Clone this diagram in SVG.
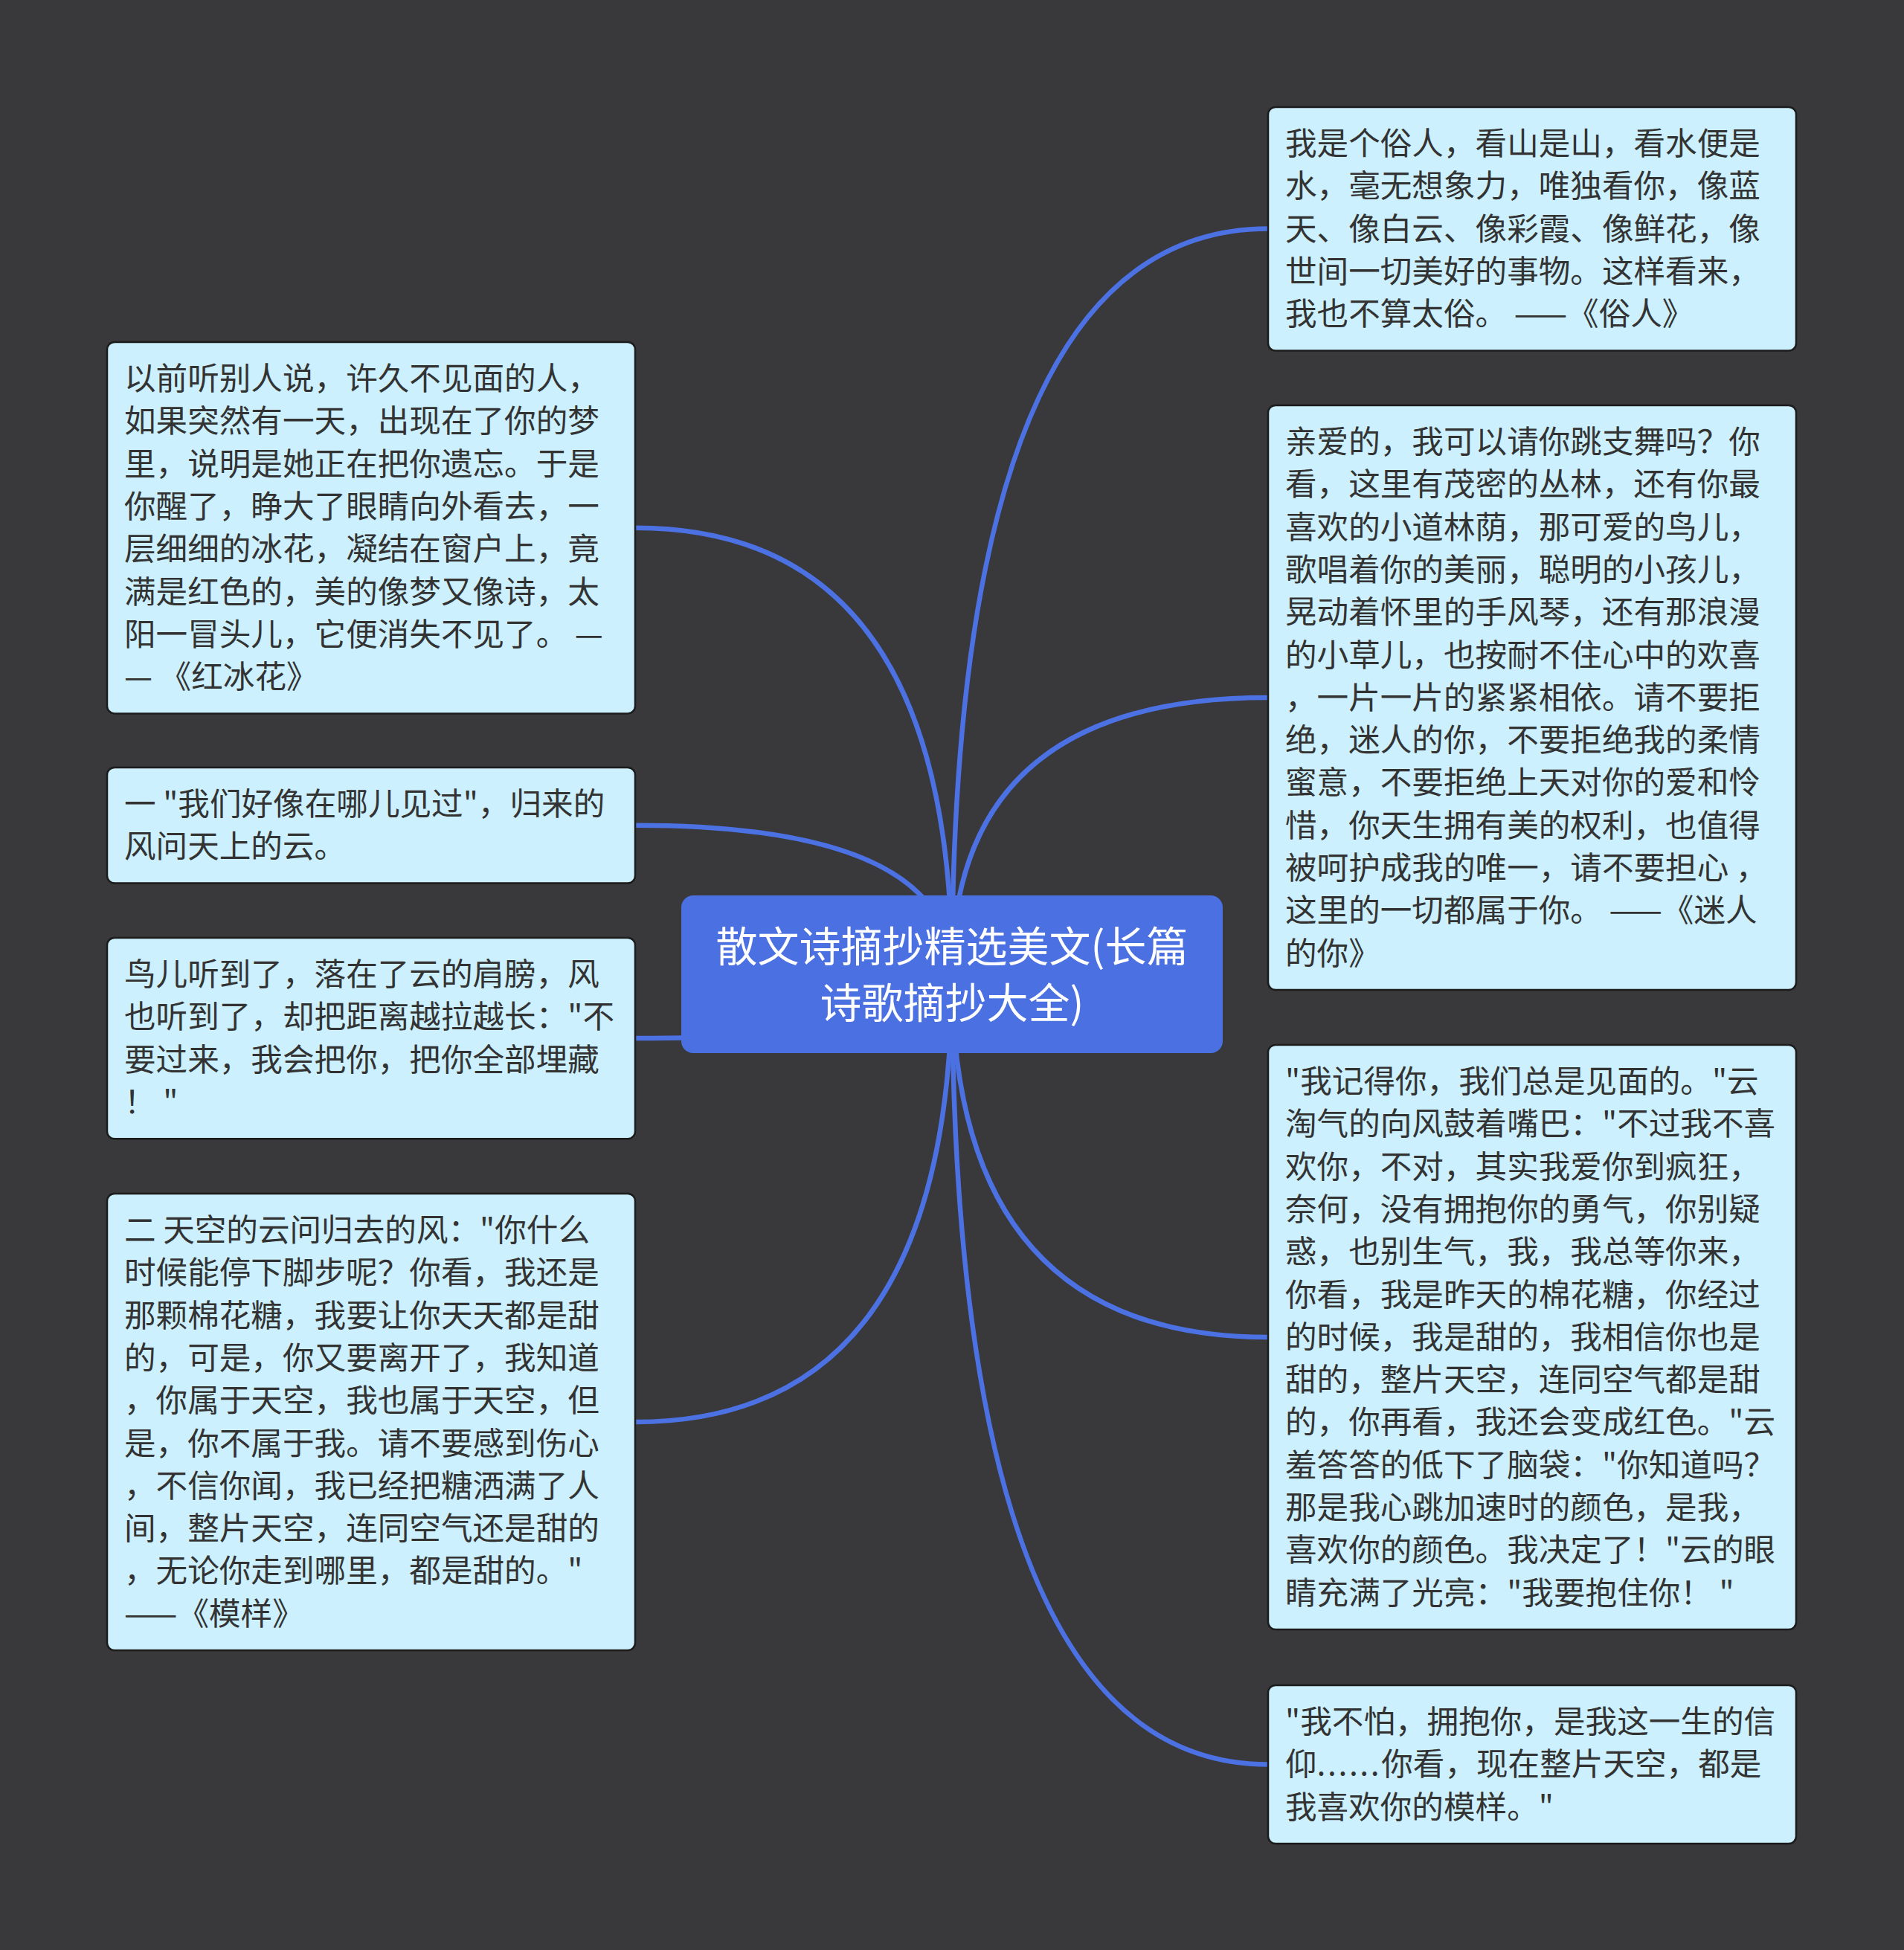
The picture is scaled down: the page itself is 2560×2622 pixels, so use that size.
<svg xmlns="http://www.w3.org/2000/svg" width="2560" height="2622" viewBox="0 0 2560 2622">
<style>
.bg{fill:#39383a}
.edge{fill:none;stroke:#4b71e3;stroke-width:6.5;stroke-linecap:round}
.box{fill:#ccf0fd;stroke:#1c1c1c;stroke-width:2.5}
.root{fill:#4b70e2}
.t{font-family:"Noto Sans CJK SC","Noto Sans",sans-serif;font-size:42.6px;fill:#333333}
.rt{font-family:"Noto Sans CJK SC","Noto Sans",sans-serif;font-size:56px;fill:#ffffff;text-anchor:middle}
.dots{letter-spacing:2.6px}
</style>
<rect class="bg" x="0" y="0" width="2560" height="2622"/>
<g id="connectors">
<path class="edge" d="M1280 1310 Q1280 307.5 1705 307.5"/>
<path class="edge" d="M1280 1310 Q1280 938 1705 938"/>
<path class="edge" d="M1280 1310 Q1280 1798 1705 1798"/>
<path class="edge" d="M1280 1310 Q1280 2372.5 1705 2372.5"/>
<path class="edge" d="M1280 1310 Q1280 709.7 854 709.7"/>
<path class="edge" d="M1280 1310 Q1280 1109.8 854 1109.8"/>
<path class="edge" d="M1280 1310 Q1280 1396 854 1396"/>
<path class="edge" d="M1280 1310 Q1280 1912 854 1912"/>
</g>
<g id="root">
<rect class="root" x="916" y="1204" width="728" height="212" rx="16"/>
<text class="rt"><tspan x="1280" y="1293">散文诗摘抄精选美文(长篇</tspan><tspan x="1280" y="1369">诗歌摘抄大全)</tspan></text>
</g>
<g id="r1">
<rect class="box" x="1705" y="144" width="710" height="327.5" rx="10"/>
<text class="t"><tspan x="1728" y="208">我是个俗人，看山是山，看水便是</tspan><tspan x="1728" dy="57.3">水，毫无想象力，唯独看你，像蓝</tspan><tspan x="1728" dy="57.3">天、像白云、像彩霞、像鲜花，像</tspan><tspan x="1728" dy="57.3">世间一切美好的事物。这样看来，</tspan><tspan x="1728" dy="57.3">我也不算太俗。 ——《俗人》</tspan></text>
</g>
<g id="r2">
<rect class="box" x="1705" y="545" width="710" height="786" rx="10"/>
<text class="t"><tspan x="1728" y="609">亲爱的，我可以请你跳支舞吗？你</tspan><tspan x="1728" dy="57.3">看，这里有茂密的丛林，还有你最</tspan><tspan x="1728" dy="57.3">喜欢的小道林荫，那可爱的鸟儿，</tspan><tspan x="1728" dy="57.3">歌唱着你的美丽，聪明的小孩儿，</tspan><tspan x="1728" dy="57.3">晃动着怀里的手风琴，还有那浪漫</tspan><tspan x="1728" dy="57.3">的小草儿，也按耐不住心中的欢喜</tspan><tspan x="1728" dy="57.3">，一片一片的紧紧相依。请不要拒</tspan><tspan x="1728" dy="57.3">绝，迷人的你，不要拒绝我的柔情</tspan><tspan x="1728" dy="57.3">蜜意，不要拒绝上天对你的爱和怜</tspan><tspan x="1728" dy="57.3">惜，你天生拥有美的权利，也值得</tspan><tspan x="1728" dy="57.3">被呵护成我的唯一，请不要担心 ，</tspan><tspan x="1728" dy="57.3">这里的一切都属于你。 ——《迷人</tspan><tspan x="1728" dy="57.3">的你》</tspan></text>
</g>
<g id="r3">
<rect class="box" x="1705" y="1405" width="710" height="786" rx="10"/>
<text class="t"><tspan x="1728" y="1469">"我记得你，我们总是见面的。"云</tspan><tspan x="1728" dy="57.3">淘气的向风鼓着嘴巴："不过我不喜</tspan><tspan x="1728" dy="57.3">欢你，不对，其实我爱你到疯狂，</tspan><tspan x="1728" dy="57.3">奈何，没有拥抱你的勇气，你别疑</tspan><tspan x="1728" dy="57.3">惑，也别生气，我，我总等你来，</tspan><tspan x="1728" dy="57.3">你看，我是昨天的棉花糖，你经过</tspan><tspan x="1728" dy="57.3">的时候，我是甜的，我相信你也是</tspan><tspan x="1728" dy="57.3">甜的，整片天空，连同空气都是甜</tspan><tspan x="1728" dy="57.3">的，你再看，我还会变成红色。"云</tspan><tspan x="1728" dy="57.3">羞答答的低下了脑袋："你知道吗？</tspan><tspan x="1728" dy="57.3">那是我心跳加速时的颜色，是我，</tspan><tspan x="1728" dy="57.3">喜欢你的颜色。我决定了！"云的眼</tspan><tspan x="1728" dy="57.3">睛充满了光亮："我要抱住你！ "</tspan></text>
</g>
<g id="r4">
<rect class="box" x="1705" y="2266" width="710" height="213" rx="10"/>
<text class="t"><tspan x="1728" y="2330">"我不怕，拥抱你，是我这一生的信</tspan><tspan x="1728" dy="57.3">仰<tspan class="dots">......</tspan>你看，现在整片天空，都是</tspan><tspan x="1728" dy="57.3">我喜欢你的模样。"</tspan></text>
</g>
<g id="l1">
<rect class="box" x="144" y="460" width="710" height="499.4" rx="10"/>
<text class="t"><tspan x="167" y="524">以前听别人说，许久不见面的人，</tspan><tspan x="167" dy="57.3">如果突然有一天，出现在了你的梦</tspan><tspan x="167" dy="57.3">里，说明是她正在把你遗忘。于是</tspan><tspan x="167" dy="57.3">你醒了，睁大了眼睛向外看去，一</tspan><tspan x="167" dy="57.3">层细细的冰花，凝结在窗户上，竟</tspan><tspan x="167" dy="57.3">满是红色的，美的像梦又像诗，太</tspan><tspan x="167" dy="57.3">阳一冒头儿，它便消失不见了。 —</tspan><tspan x="167" dy="57.3">— 《红冰花》</tspan></text>
</g>
<g id="l2">
<rect class="box" x="144" y="1032" width="710" height="155.6" rx="10"/>
<text class="t"><tspan x="167" y="1096">一 "我们好像在哪儿见过"，归来的</tspan><tspan x="167" dy="57.3">风问天上的云。</tspan></text>
</g>
<g id="l3">
<rect class="box" x="144" y="1261" width="710" height="270.2" rx="10"/>
<text class="t"><tspan x="167" y="1325">鸟儿听到了，落在了云的肩膀，风</tspan><tspan x="167" dy="57.3">也听到了，却把距离越拉越长："不</tspan><tspan x="167" dy="57.3">要过来，我会把你，把你全部埋藏</tspan><tspan x="167" dy="57.3">！ "</tspan></text>
</g>
<g id="l4">
<rect class="box" x="144" y="1605" width="710" height="614" rx="10"/>
<text class="t"><tspan x="167" y="1669">二 天空的云问归去的风："你什么</tspan><tspan x="167" dy="57.3">时候能停下脚步呢？你看，我还是</tspan><tspan x="167" dy="57.3">那颗棉花糖，我要让你天天都是甜</tspan><tspan x="167" dy="57.3">的，可是，你又要离开了，我知道</tspan><tspan x="167" dy="57.3">，你属于天空，我也属于天空，但</tspan><tspan x="167" dy="57.3">是，你不属于我。请不要感到伤心</tspan><tspan x="167" dy="57.3">，不信你闻，我已经把糖洒满了人</tspan><tspan x="167" dy="57.3">间，整片天空，连同空气还是甜的</tspan><tspan x="167" dy="57.3">，无论你走到哪里，都是甜的。"</tspan><tspan x="167" dy="57.3">——《模样》</tspan></text>
</g>
</svg>
